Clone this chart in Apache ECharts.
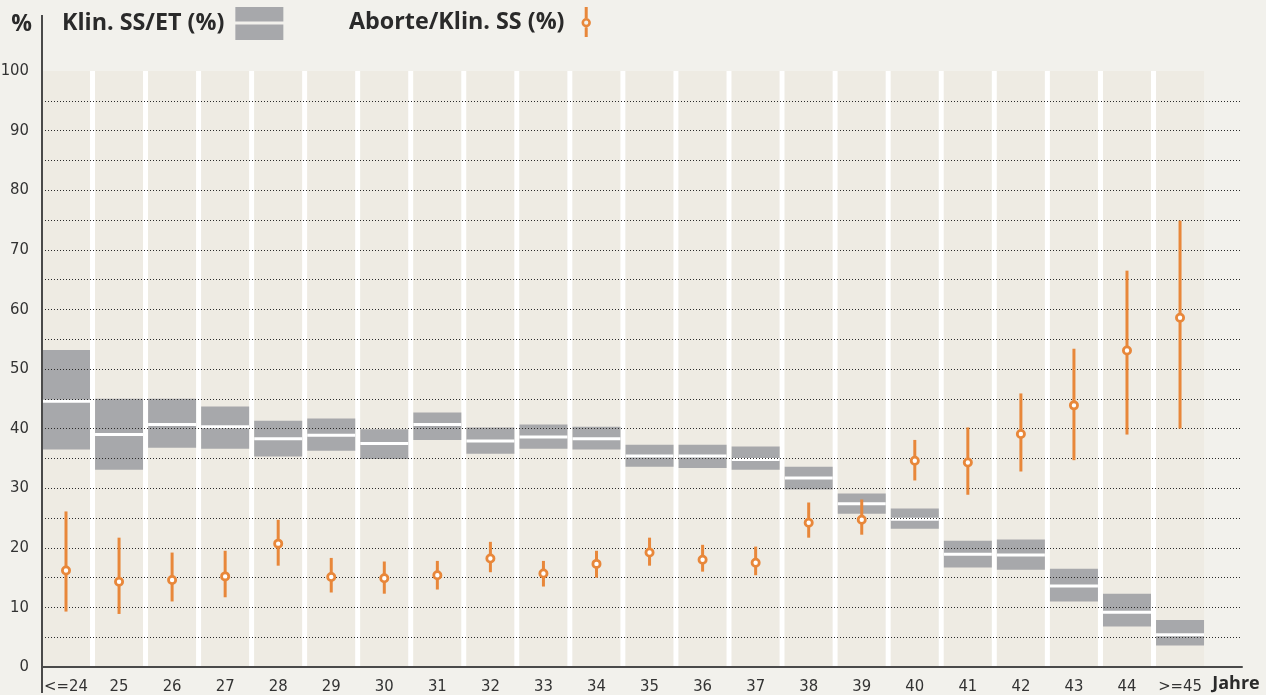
<!DOCTYPE html>
<html>
<head>
<meta charset="utf-8">
<script src="https://cdn.jsdelivr.net/npm/echarts@6/dist/echarts.min.js"></script>
<style>
html,body{margin:0;padding:0;background:#f2f1ec;}
#c{width:1266px;height:695px;}
</style>
</head>
<body>
<div id="c"></div>
<script>
// ---- data ----
const categories = ['<=24','25','26','27','28','29','30','31','32','33','34','35','36','37','38','39','40','41','42','43','44','>=45'];
const yTicks = [0,10,20,30,40,50,60,70,80,90,100];
// Klin. SS/ET (%) : lower edge, median line, upper edge of the grey box
const ssLow  = [36.5,33.1,36.8,36.6,35.3,36.3,34.9,38.1,35.8,36.6,36.5,33.6,33.4,33.1,29.8,25.7,23.2,16.7,16.3,11.0,6.8,3.6];
const ssMid  = [44.6,39.0,40.7,40.3,38.3,38.9,37.5,40.7,37.9,38.6,38.3,35.4,35.4,34.8,31.7,27.4,24.8,18.9,18.8,13.6,9.2,5.4];
const ssHigh = [53.2,45.0,45.0,43.7,41.3,41.7,39.9,42.7,40.2,40.7,40.3,37.3,37.3,37.0,33.6,29.1,26.6,21.2,21.4,16.5,12.3,7.9];
// Aborte/Klin. SS (%) : lower whisker, point, upper whisker
const abLow  = [9.3,8.9,11.0,11.7,17.0,12.5,12.3,13.0,15.9,13.5,15.0,17.0,16.0,15.4,21.7,22.2,31.3,28.9,32.8,34.7,39.0,40.0];
const abVal  = [16.2,14.3,14.6,15.2,20.7,15.1,14.9,15.4,18.2,15.7,17.3,19.2,18.0,17.5,24.2,24.7,34.6,34.3,39.1,43.9,53.1,58.6];
const abHigh = [26.1,21.7,19.2,19.5,24.7,18.3,17.7,17.8,21.0,17.8,19.5,21.7,20.5,20.2,27.6,28.1,38.1,40.2,45.9,53.4,66.5,74.9];

// ---- layout / style ----
const GL = 42, GR = 24, GT = 71, GB = 28;
const W = 1266, H = 695;
const XMIN = -0.4524, XMAX = 22.168;
const BAND_W = 48, GAP_W = 5;
const GREY = '#a7a8ab', ORANGE = '#e8873a', BAND = '#eeebe3', PAGE = '#f2f1ec';
const AXIS = '#4a4a4a', TXT = '#2a2a2a';
const LABEL_FONT = '"DejaVu Sans Condensed","Liberation Sans",sans-serif';
const BOLD_FONT = '"Open Sans","DejaVu Sans",sans-serif';

const bandData = categories.map((c, i) => [i, 0, 100]);
const ssData = categories.map((c, i) => [i, ssLow[i], ssMid[i], ssHigh[i]]);
const abData = categories.map((c, i) => [i, abLow[i], abVal[i], abHigh[i]]);

const chart = echarts.init(document.getElementById('c'), null, {renderer: 'canvas'});

const option = {
  backgroundColor: PAGE,
  animation: false,
  grid: {left: GL, right: GR, top: GT, bottom: GB, containLabel: false, outerBoundsMode: 'none'},
  legend: [
    {
      data: [{name: 'Klin. SS/ET (%)', icon: 'path://M0,0H48V14.5H0Z M0,17.5H48V33H0Z', itemStyle: {color: GREY}}],
      left: 62, top: 7, padding: 0, align: 'right', itemWidth: 48, itemHeight: 33,
      selectedMode: false,
      textStyle: {fontFamily: BOLD_FONT, fontWeight: 'bold', fontSize: 23.3, color: TXT, padding: [2, 6, 0, 0]}
    },
    {
      data: [{name: 'Aborte/Klin. SS (%)', icon: 'path://M4.5,0H7.5V11H4.5Z M4.5,20.4H7.5V30H4.5Z M1.3,15.7A4.7,4.7 0 1 1 10.7,15.7A4.7,4.7 0 1 1 1.3,15.7Z M3.9,15.7A2.1,2.1 0 1 0 8.1,15.7A2.1,2.1 0 1 0 3.9,15.7Z', itemStyle: {color: ORANGE}}],
      left: 349, top: 7, padding: 0, align: 'right', itemWidth: 9.4, itemHeight: 30,
      selectedMode: false,
      textStyle: {fontFamily: BOLD_FONT, fontWeight: 'bold', fontSize: 23.3, color: TXT, padding: [2, 12, 0, 0]}
    }
  ],
  xAxis: {
    type: 'value', min: XMIN, max: XMAX, z: 2,
    name: 'Jahre', nameLocation: 'end', nameGap: -6,
    nameTextStyle: {fontFamily: BOLD_FONT, fontWeight: 'bold', fontSize: 18, color: TXT, align: 'center', verticalAlign: 'top', padding: [8, 0, 0, 0]},
    axisLine: {show: true, onZero: false, lineStyle: {color: AXIS, width: 2}},
    axisTick: {show: false},
    splitLine: {show: false},
    axisLabel: {
      customValues: categories.map((c, i) => i),
      formatter: v => categories[Math.round(v)],
      margin: 11, fontFamily: LABEL_FONT, fontSize: 16.5, color: '#333'
    }
  },
  yAxis: {
    type: 'value', min: 0, max: 100, interval: 5, z: 2,
    name: '%', nameLocation: 'end', nameGap: 47,
    nameTextStyle: {fontFamily: BOLD_FONT, fontWeight: 'bold', fontSize: 23, color: TXT, align: 'right', verticalAlign: 'middle', padding: [0, 10, 0, 0]},
    axisLine: {show: true, onZero: false, lineStyle: {color: AXIS, width: 2}},
    axisTick: {show: false},
    axisLabel: {
      customValues: yTicks,
      margin: 13, fontFamily: LABEL_FONT, fontSize: 16.5, color: '#333'
    },
    splitLine: {show: true, showMinLine: false, showMaxLine: false, lineStyle: {color: '#2a2a2a', width: 1, type: [1, 2]}}
  },
  graphic: [
    {type: 'line', z: 10, shape: {x1: GL, y1: 15, x2: GL, y2: GT}, style: {stroke: AXIS, lineWidth: 2}},
    {type: 'line', z: 10, shape: {x1: GL, y1: H - GB, x2: GL, y2: 693}, style: {stroke: AXIS, lineWidth: 2}}
  ],
  series: [
    {
      name: 'bands', type: 'custom', z: 0, silent: true,
      data: bandData, encode: {x: 0, y: [1, 2]},
      renderItem: (params, api) => {
        const i = api.value(0);
        const top = api.coord([i, api.value(2)]);
        const bot = api.coord([i, api.value(1)]);
        const cx = top[0];
        const children = [{
          type: 'rect', shape: {x: cx - BAND_W / 2, y: top[1], width: BAND_W, height: bot[1] - top[1]},
          style: {fill: BAND}
        }];
        if (i < categories.length - 1) {
          children.push({
            type: 'rect', shape: {x: cx + BAND_W / 2, y: top[1], width: GAP_W, height: bot[1] - top[1]},
            style: {fill: '#ffffff'}
          });
        }
        return {type: 'group', children};
      }
    },
    {
      name: 'Klin. SS/ET (%)', type: 'custom', z: 1,
      itemStyle: {color: GREY},
      data: ssData, encode: {x: 0, y: [1, 2, 3]},
      renderItem: (params, api) => {
        const i = api.value(0);
        const lo = api.coord([i, api.value(1)]);
        const md = api.coord([i, api.value(2)]);
        const hi = api.coord([i, api.value(3)]);
        const cx = lo[0];
        return {type: 'group', children: [
          {type: 'rect', shape: {x: cx - BAND_W / 2, y: hi[1], width: BAND_W, height: lo[1] - hi[1]}, style: {fill: GREY}},
          {type: 'rect', shape: {x: cx - BAND_W / 2, y: md[1] - 1.5, width: BAND_W, height: 3}, style: {fill: '#ffffff'}}
        ]};
      }
    },
    {
      name: 'Aborte/Klin. SS (%)', type: 'custom', z: 5,
      itemStyle: {color: ORANGE},
      data: abData, encode: {x: 0, y: [1, 2, 3]},
      renderItem: (params, api) => {
        const i = api.value(0);
        const lo = api.coord([i, api.value(1)]);
        const md = api.coord([i, api.value(2)]);
        const hi = api.coord([i, api.value(3)]);
        const cx = lo[0];
        return {type: 'group', children: [
          {type: 'line', shape: {x1: cx, y1: hi[1], x2: cx, y2: lo[1]}, style: {stroke: ORANGE, lineWidth: 3}},
          {type: 'circle', shape: {cx: cx, cy: md[1], r: 3.6}, style: {fill: '#ffffff', stroke: ORANGE, lineWidth: 2.8}}
        ]};
      }
    }
  ]
};
chart.setOption(option);
</script>
</body>
</html>
